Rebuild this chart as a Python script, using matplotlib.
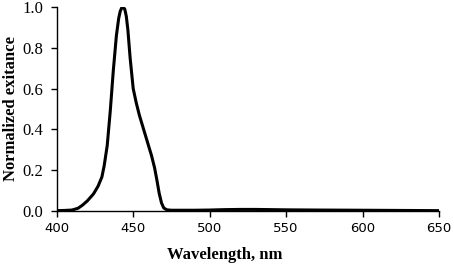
import matplotlib.pyplot as plt

# Spectre d'émission normalisé
wavelength = [400, 405, 410, 414, 417, 420, 424, 427, 429.5, 431, 433, 435, 437, 439,
              440.5, 441.5, 442.5, 443.5, 444.5, 445.5, 446.5, 448, 450, 452, 454, 456,
              458, 460, 462, 464, 465.5, 467, 468.5, 470, 472, 475, 480, 490, 500, 510,
              520, 530, 540, 550, 570, 600, 625, 650]
exitance = [0.0, 0.001, 0.003, 0.012, 0.028, 0.048, 0.082, 0.12, 0.165, 0.22, 0.32,
            0.49, 0.69, 0.86, 0.945, 0.98, 0.997, 1.0, 0.99, 0.955, 0.89, 0.75, 0.6,
            0.53, 0.47, 0.42, 0.37, 0.32, 0.27, 0.21, 0.15, 0.085, 0.038, 0.013, 0.004,
            0.002, 0.002, 0.002, 0.003, 0.005, 0.006, 0.006, 0.005, 0.004, 0.003,
            0.002, 0.001, 0.0]

x_ticks = [400, 450, 500, 550, 600, 650]
y_ticks = [0.0, 0.2, 0.4, 0.6, 0.8, 1.0]

fig = plt.figure(figsize=(4.54, 2.68), dpi=100)
ax = fig.add_axes([0.125, 0.214, 0.842, 0.759])

ax.plot(wavelength, exitance, color='black', linewidth=2.2,
        solid_joinstyle='round', solid_capstyle='round')

ax.set_xlim(400, 650)
ax.set_ylim(0, 1.0)
ax.set_xticks(x_ticks)
ax.set_yticks(y_ticks)
ax.set_yticklabels([f"{v:.1f}" for v in y_ticks], family='Liberation Serif', fontsize=12)
ax.set_xticklabels([str(v) for v in x_ticks], family='DejaVu Sans', fontsize=9.5)

for s in ['top', 'right']:
    ax.spines[s].set_visible(False)
for s in ['left', 'bottom']:
    ax.spines[s].set_linewidth(1.0)
ax.tick_params(direction='out', length=4, width=1.0, colors='black')
ax.tick_params(axis='y', pad=6)
ax.tick_params(axis='x', pad=4)

ax.set_xlabel('Wavelength, nm', family='Liberation Serif', fontweight='bold', fontsize=12)
ax.set_ylabel('Normalized exitance', family='Liberation Serif', fontweight='bold', fontsize=12)
ax.xaxis.set_label_coords(0.44, -0.18)
ax.yaxis.set_label_coords(-0.10, 0.5)

fig.savefig('out.png', dpi=100)
